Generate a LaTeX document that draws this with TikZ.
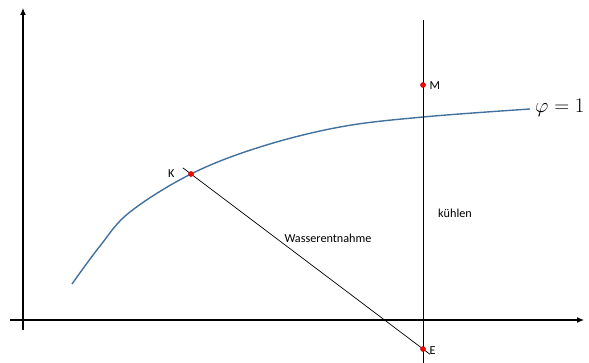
\documentclass[tikz,border=0pt]{standalone}
\usepackage{fontspec}
\setmainfont{Carlito}
\usetikzlibrary{arrows.meta,calc}
\definecolor{curveblue}{RGB}{65,113,156}

\begin{document}
\begin{tikzpicture}[x=1pt, y=-1pt, font=\fontsize{12.2}{14}\selectfont,
  >={Latex[length=7pt,width=6pt]},
  axis/.style={->, line width=1.1pt},
  lin/.style={line width=0.7pt},
  pt/.style={fill=red, draw=red!70!black, line width=0.3pt},
  curve/.style={draw=curveblue, line width=1.4pt}]
  \useasboundingbox (0,0) rectangle (589,363);

  % axes
  \coordinate (O1) at (23,330);
  \coordinate (Ytop) at (23,8);
  \coordinate (O2) at (10,320);
  \coordinate (Xend) at (584,320);
  \draw[axis] (O1) -- (Ytop);
  \draw[axis] (O2) -- (Xend);

  % points
  \coordinate (K) at (191,174);
  \coordinate (M) at (423,85);
  \coordinate (E) at (423,349);
  \coordinate (Vtop) at (423,20);
  \coordinate (Vbot) at (423,363);

  % saturation curve
  \draw[curve] plot[smooth, tension=0.6] coordinates
    {(72,284) (100,246) (130,212) (K) (260,147) (340,127) (423,117) (530,109)};
  \node[anchor=west, inner sep=0pt, font=\fontsize{20}{22}\selectfont] (phi) at (535,108) {$\varphi = 1$};

  % process lines
  \draw[lin] (Vtop) -- (Vbot);
  \draw[lin] ($(K)!-0.035!(E)$) -- ($(E)!-0.03!(K)$);

  \fill[pt] (K) circle (2.6);
  \fill[pt] (M) circle (2.6);
  \fill[pt] (E) circle (2.6);

  \node[anchor=east] (lK) at (178,174) {K};
  \node[anchor=west] (lM) at (426,86) {M};
  \node[anchor=west] (lE) at (426,351) {E};
  \node (lkuehlen) at (455,213) {kühlen};
  \node (lwasser) at (328,238) {Wasserentnahme};
\end{tikzpicture}
\end{document}
